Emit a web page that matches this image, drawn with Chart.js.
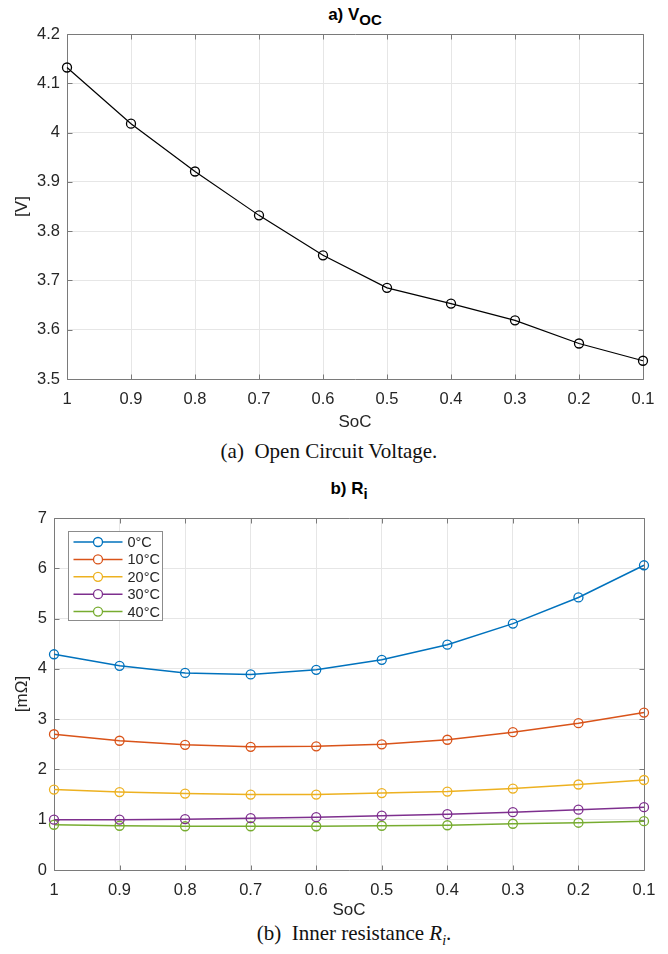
<!DOCTYPE html>
<html>
<head>
<meta charset="utf-8">
<script src="https://cdn.jsdelivr.net/npm/chart.js@4.4.1/dist/chart.umd.min.js"></script>
<style>
    body {
        margin: 0;
        width: 668px;
        height: 954px;
        background: #fff;
        position: relative;
        overflow: hidden;
    }
    canvas {
        position: absolute;
        left: 0;
    }
    .plot-title {
        position: absolute;
        transform: translateX(-50%);
        font: bold 17px "Liberation Sans", Arial, sans-serif;
        color: #000;
        white-space: nowrap;
    }
    .plot-title sub {
        font-size: 15px;
        position: relative;
        top: 1px;
    }
    .caption {
        position: absolute;
        transform: translateX(-50%);
        font: 21px "Liberation Serif", "Times New Roman", serif;
        color: #111;
        white-space: nowrap;
    }
    .caption sub {
        font-size: 14px;
    }
</style>
</head>
<body>
<div class="plot-title" style="left:355px; top:5px">a) V<sub>OC</sub></div>
<canvas id="voc-chart" width="668" height="433" style="top:0"></canvas>
<div class="caption" style="left:329px; top:439px">(a)&nbsp; Open Circuit Voltage.</div>

<div class="plot-title" style="left:349px; top:479px">b) R<sub>i</sub></div>
<canvas id="ri-chart" width="668" height="421" style="top:500px"></canvas>
<div class="caption" style="left:354px; top:921px">(b)&nbsp; Inner resistance <i>R</i><sub><i>i</i></sub>.</div>

<script>
const socLabels = ["1", "0.9", "0.8", "0.7", "0.6", "0.5", "0.4", "0.3", "0.2", "0.1"];

const vocValues = [4.132, 4.018, 3.921, 3.832, 3.751, 3.685, 3.653, 3.619, 3.572, 3.537];
const vocTicks = { min: 3.5, max: 4.2, step: 0.1 };

const tempLabels = ["0°C", "10°C", "20°C", "30°C", "40°C"];
const ri0 = [4.29, 4.06, 3.92, 3.89, 3.98, 4.18, 4.48, 4.90, 5.42, 6.06];
const ri10 = [2.70, 2.57, 2.49, 2.45, 2.46, 2.50, 2.59, 2.74, 2.92, 3.13];
const ri20 = [1.60, 1.55, 1.52, 1.50, 1.50, 1.53, 1.56, 1.62, 1.70, 1.79];
const ri30 = [1.00, 1.00, 1.01, 1.03, 1.05, 1.08, 1.11, 1.15, 1.20, 1.25];
const ri40 = [0.90, 0.88, 0.87, 0.87, 0.87, 0.88, 0.89, 0.92, 0.94, 0.97];
const riTicks = { min: 0, max: 7, step: 1 };

const lineColors = ["#0072BD", "#D95319", "#EDB120", "#7E2F8E", "#77AC30"];

const tickFont = { family: "'Liberation Sans', Arial, sans-serif", size: 16.5 };
const labelFont = { family: "'Liberation Sans', Arial, sans-serif", size: 17 };
const textColor = "#262626";
const gridColor = "#e6e6e6";
const boxColor = "#7a7a7a";

// matlab style box with inward ticks on every side
const boxPlugin = {
    id: "boxPlugin",
    beforeDatasetsDraw(chart) {
        const { ctx, chartArea: a, scales } = chart;
        const left = Math.round(a.left) + 0.5;
        const right = Math.round(a.right) + 0.5;
        const top = Math.round(a.top) + 0.5;
        const bottom = Math.round(a.bottom) + 0.5;
        ctx.save();
        ctx.strokeStyle = boxColor;
        ctx.lineWidth = 1;
        ctx.beginPath();
        scales.x.ticks.forEach((t, i) => {
            const px = Math.round(scales.x.getPixelForTick(i)) + 0.5;
            ctx.moveTo(px, bottom);
            ctx.lineTo(px, bottom - 5);
            ctx.moveTo(px, top);
            ctx.lineTo(px, top + 5);
        });
        scales.y.ticks.forEach((t, i) => {
            const py = Math.round(scales.y.getPixelForTick(i)) + 0.5;
            ctx.moveTo(left, py);
            ctx.lineTo(left + 5, py);
            ctx.moveTo(right, py);
            ctx.lineTo(right - 5, py);
        });
        ctx.rect(left, top, right - left, bottom - top);
        ctx.stroke();
        ctx.restore();
    },
};

// legend box drawn inside the plot, top left
const insideLegend = {
    id: "insideLegend",
    afterDraw(chart) {
        const { ctx, chartArea: a } = chart;
        const x = Math.round(a.left) + 14.5;
        const y = Math.round(a.top) + 13.5;
        const w = 94;
        const h = 89;
        const row = 17.4;
        ctx.save();
        ctx.fillStyle = "#fff";
        ctx.strokeStyle = "#8c8c8c";
        ctx.lineWidth = 1;
        ctx.fillRect(x, y, w, h);
        ctx.strokeRect(x, y, w, h);
        ctx.font = "14.5px 'Liberation Sans', Arial, sans-serif";
        ctx.textBaseline = "middle";
        chart.data.datasets.forEach((ds, i) => {
            const cy = y + 10.5 + i * row;
            ctx.strokeStyle = ds.borderColor;
            ctx.lineWidth = 1.5;
            ctx.beginPath();
            ctx.moveTo(x + 5, cy);
            ctx.lineTo(x + 54, cy);
            ctx.stroke();
            ctx.beginPath();
            ctx.arc(x + 29.5, cy, 4.5, 0, Math.PI * 2);
            ctx.fillStyle = "#fff";
            ctx.fill();
            ctx.lineWidth = 1.3;
            ctx.stroke();
            ctx.fillStyle = textColor;
            ctx.fillText(ds.label, x + 59, cy + 1);
        });
        ctx.restore();
    },
};

function formatTick(v) {
    return String(Number(v.toFixed(1)));
}

function axesOptions(yTicks, yTitle, yWidth, xHeight) {
    return {
        x: {
            type: "category",
            offset: false,
            grid: { color: gridColor, drawTicks: false, offset: false },
            border: { display: false },
            ticks: { color: textColor, font: tickFont, padding: 11, maxRotation: 0, autoSkip: false },
            title: { display: true, text: "SoC", color: textColor, font: labelFont, padding: { top: 0, bottom: 0 } },
            afterFit: (scale) => { scale.height = xHeight; },
        },
        y: {
            min: yTicks.min,
            max: yTicks.max,
            grid: { color: gridColor, drawTicks: false },
            border: { display: false },
            ticks: { stepSize: yTicks.step, color: textColor, font: tickFont, padding: 7, callback: formatTick },
            title: { display: true, text: yTitle, color: textColor, font: labelFont, padding: { top: 12, bottom: 0 } },
            afterFit: (scale) => { scale.width = yWidth; },
        },
    };
}

function renderVocChart() {
    const ctx = document.getElementById("voc-chart").getContext("2d");
    new Chart(ctx, {
        type: "line",
        data: {
            labels: socLabels,
            datasets: [
                {
                    label: "Voc",
                    data: vocValues,
                    borderColor: "#000",
                    borderWidth: 1.2,
                    pointRadius: 4.5,
                    pointBorderWidth: 1.3,
                    pointBackgroundColor: "rgba(0,0,0,0)",
                    tension: 0,
                    clip: false,
                },
            ],
        },
        options: {
            responsive: false,
            animation: false,
            layout: { padding: { top: 34, right: 25, left: 0, bottom: 0 } },
            plugins: { legend: { display: false }, tooltip: { enabled: false } },
            scales: axesOptions(vocTicks, "[V]", 67, 54),
        },
        plugins: [boxPlugin],
    });
}

function renderRiChart() {
    const ctx = document.getElementById("ri-chart").getContext("2d");
    const series = [ri0, ri10, ri20, ri30, ri40];
    new Chart(ctx, {
        type: "line",
        data: {
            labels: socLabels,
            datasets: series.map((values, i) => ({
                label: tempLabels[i],
                data: values,
                borderColor: lineColors[i],
                borderWidth: 1.5,
                pointRadius: 4.5,
                pointBorderWidth: 1.3,
                pointBackgroundColor: "rgba(0,0,0,0)",
                tension: 0,
                clip: false,
            })),
        },
        options: {
            responsive: false,
            animation: false,
            layout: { padding: { top: 18, right: 24, left: 0, bottom: 0 } },
            plugins: { legend: { display: false }, tooltip: { enabled: false } },
            scales: axesOptions(riTicks, "[mΩ]", 54, 51),
        },
        plugins: [boxPlugin, insideLegend],
    });
}

document.addEventListener("DOMContentLoaded", () => {
    renderVocChart();
    renderRiChart();
});
</script>
</body>
</html>
